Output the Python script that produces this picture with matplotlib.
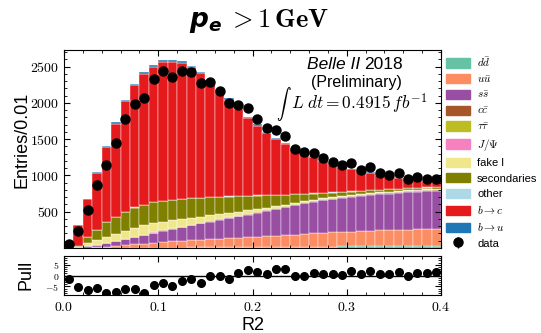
import numpy as np
import matplotlib
matplotlib.use('Agg')
import matplotlib.pyplot as plt
from matplotlib.ticker import MultipleLocator, FuncFormatter, FixedLocator
from matplotlib.patches import Patch

plt.rcParams['mathtext.fontset'] = 'cm'
plt.rcParams['font.family'] = ['Liberation Sans', 'DejaVu Sans']

# 40 bins of R2, width 0.01
r2_lo, r2_hi, nbins = 0.0, 0.4, 40

dd = [0, 0, 0, 1, 1, 2, 2, 3, 3, 4, 5, 5, 6, 7, 7, 8, 9, 10, 10, 11,
      12, 13, 14, 15, 16, 17, 18, 19, 20, 21, 22, 23, 24, 25, 26, 27, 28, 29, 30, 31]
uu = [0, 2, 5, 9, 19, 28, 38, 47, 57, 66, 75, 85, 94, 101, 108, 114, 121, 127, 134, 139,
      144, 150, 156, 163, 170, 178, 184, 190, 195, 200, 205, 209, 213, 217, 221, 224, 227, 230, 233, 235]
ss = [0, 6, 20, 35, 50, 65, 80, 98, 118, 138, 157, 173, 188, 207, 225, 243, 260, 276, 293, 310,
      327, 347, 365, 382, 402, 420, 433, 446, 457, 467, 476, 484, 491, 498, 503, 509, 513, 516, 519, 524]
cc = [0, 0, 1, 1, 2, 2, 3, 3, 4, 4, 5, 5, 5, 6, 6, 6, 7, 7, 7, 8,
      8, 8, 9, 9, 9, 10, 10, 10, 10, 11, 11, 11, 11, 12, 12, 12, 12, 12, 13, 13]
tautau = [0, 0, 0, 0, 1, 1, 1, 1, 1, 1, 2, 2, 2, 2, 2, 2, 3, 3, 3, 3,
          3, 3, 3, 4, 4, 4, 4, 4, 4, 4, 5, 5, 5, 5, 5, 5, 5, 5, 5, 5]
jpsi = [0, 0, 0, 0, 0, 1, 1, 1, 1, 1, 1, 1, 1, 1, 1, 1, 1, 1, 1, 1,
        1, 1, 1, 1, 1, 1, 1, 1, 1, 1, 1, 1, 1, 1, 1, 1, 1, 1, 1, 1]
fake = [2, 7, 47, 63, 83, 94, 109, 118, 133, 126, 118, 115, 104, 92, 84, 77, 68, 62, 55, 47,
        41, 34, 28, 22, 20, 18, 16, 15, 14, 13, 12, 11, 10, 10, 9, 9, 8, 8, 7, 7]
secondaries = [3, 15, 83, 138, 206, 239, 267, 286, 276, 290, 285, 276, 276, 268, 258, 247, 235, 223, 211, 199,
               186, 170, 154, 138, 116, 96, 85, 73, 64, 55, 47, 42, 38, 32, 30, 27, 27, 26, 25, 23]
other = [0, 2, 2, 2, 2, 2, 2, 2, 2, 2, 2, 2, 2, 2, 2, 2, 2, 2, 2, 2,
         2, 2, 2, 2, 2, 2, 2, 2, 2, 2, 2, 2, 2, 2, 2, 2, 2, 2, 2, 2]
b2c = [60, 281, 511, 783, 1027, 1282, 1518, 1686, 1803, 1867, 1917, 1903, 1873, 1806, 1715, 1589, 1464, 1333, 1196, 1073,
       965, 862, 772, 693, 626, 565, 502, 446, 390, 348, 307, 270, 239, 207, 181, 154, 131, 107, 86, 65]
b2u = [0, 3, 6, 10, 14, 17, 20, 22, 24, 25, 25, 25, 25, 24, 23, 22, 21, 20, 19, 18,
       17, 16, 15, 14, 13, 12, 11, 10, 9, 9, 8, 8, 7, 7, 6, 6, 5, 5, 5, 5]

data = [50, 233, 519, 863, 1139, 1447, 1778, 1980, 2063, 2325, 2440, 2362, 2440, 2431, 2270, 2284, 2164, 1994, 1971, 1925,
        1778, 1649, 1626, 1549, 1364, 1318, 1304, 1236, 1180, 1143, 1167, 1075, 1121, 1029, 1006, 1029, 950, 975, 958, 945]
pull = [-1.8, -5.4, -6.5, -5.7, -8.0, -7.5, -6.0, -6.0, -8.3, -4.5, -3.4, -4.7, -2.6, -1.4, -3.4, -0.3, -0.3, -1.5, 1.0, 2.6,
        1.7, 0.8, 2.8, 2.8, -0.3, -0.2, 1.2, 0.8, 0.8, 0.2, 2.0, 0.8, 2.3, 0.8, 0.5, 1.7, -0.3, 1.2, 1.1, 1.6]

components = [dd, uu, ss, cc, tautau, jpsi, fake, secondaries, other, b2c, b2u]
labels = [r'$d\bar{d}$', r'$u\bar{u}$', r'$s\bar{s}$', r'$c\bar{c}$', r'$\tau\bar{\tau}$', r'$J/\Psi$',
          'fake l', 'secondaries', 'other', r'$b\rightarrow c$', r'$b\rightarrow u$']
colors = ['#66c2a5', '#fc8d62', '#984ea3', '#a65628', '#bcbd22', '#f781bf',
          '#f0e68c', '#808000', '#add8e6', '#e41a1c', '#1f78b4']

edges = np.linspace(r2_lo, r2_hi, nbins + 1)[:-1]
width = (r2_hi - r2_lo) / nbins
centers = edges + width / 2

W, H = 541, 333
fig = plt.figure(figsize=(W / 100, H / 100), dpi=100)
ax = fig.add_axes([64 / W, 1 - 248 / H, 377 / W, 198 / H])
axp = fig.add_axes([64 / W, 1 - 295 / H, 377 / W, 39 / H], sharex=ax)

bottom = np.zeros(nbins)
handles = []
for vals, col, lab in zip(components, colors, labels):
    ax.bar(edges, vals, width=width, bottom=bottom, align='edge', color=col,
           edgecolor='white', linewidth=0.3)
    bottom += np.array(vals)
    handles.append(Patch(facecolor=col, edgecolor=col, label=lab))

eb = ax.errorbar(centers, data, yerr=np.sqrt(data), fmt='o', color='black',
                 ms=6.5, elinewidth=1, capsize=0, zorder=5, label='data')
handles.append(eb)

ax.set_xlim(r2_lo, r2_hi)
ax.set_ylim(0, 2730)


def tex(fmt):
    return FuncFormatter(lambda v, p: '$' + (fmt % v) + '$')


ax.yaxis.set_major_locator(FixedLocator([500, 1000, 1500, 2000, 2500]))
ax.yaxis.set_minor_locator(MultipleLocator(100))
ax.yaxis.set_major_formatter(tex('%d'))
ax.xaxis.set_major_locator(MultipleLocator(0.1))
ax.xaxis.set_minor_locator(MultipleLocator(0.02))
plt.setp(ax.get_xticklabels(), visible=False)

for a in (ax, axp):
    a.tick_params(which='both', direction='in', top=True, right=True)
    a.tick_params(which='major', length=4, labelsize=10)
    a.tick_params(which='minor', length=2)

axp.axhline(0, color='black', lw=1)
axp.plot(centers, pull, 'o', color='black', ms=5.5)
axp.set_ylim(-9, 9)
axp.yaxis.set_major_locator(FixedLocator([-5, 0, 5]))
axp.yaxis.set_minor_locator(MultipleLocator(1))
axp.yaxis.set_major_formatter(tex('%d'))
axp.xaxis.set_major_formatter(tex('%.1f'))
axp.tick_params(axis='y', labelsize=7)

# labels
fig.text(22 / W, 1 - 140 / H, 'Entries/0.01', rotation=90, ha='center', va='center', fontsize=13)
fig.text(26 / W, 1 - 275 / H, 'Pull', rotation=90, ha='center', va='center', fontsize=13)
fig.text(253 / W, 1 - 325 / H, 'R2', ha='center', va='center', fontsize=13)

# experiment text
ax.text(0.785, 0.925, 'Belle II', transform=ax.transAxes, ha='right', va='center',
        fontsize=12.5, style='italic')
ax.text(0.795, 0.925, '2018', transform=ax.transAxes, ha='left', va='center', fontsize=12.5)
ax.text(0.775, 0.835, '(Preliminary)', transform=ax.transAxes, ha='center', va='center', fontsize=11.5)
ax.text(0.583, 0.725, r'$\int$', transform=ax.transAxes, ha='center', va='center', fontsize=10.5)
ax.text(0.603, 0.73, r'$L\;dt = 0.4915\,fb^{-1}$', transform=ax.transAxes,
        ha='left', va='center', fontsize=12.5)

# title
fig.text(222 / W, 1 - 27 / H, r'$\mathbfit{p}_{\mathbfit{e}}$', ha='right', va='baseline',
         fontsize=19, math_fontfamily='dejavusans')
fig.text(228 / W, 1 - 27 / H, r'$> \mathbf{1\,GeV}$', ha='left', va='baseline', fontsize=19)

fig.legend(handles=handles, loc='upper left', bbox_to_anchor=(446 / W, 1 - 55 / H),
           frameon=False, fontsize=8, handlelength=2.2, handleheight=0.9,
           labelspacing=0.45, handletextpad=0.6, borderaxespad=0, borderpad=0)

fig.savefig('out.png', dpi=100)
